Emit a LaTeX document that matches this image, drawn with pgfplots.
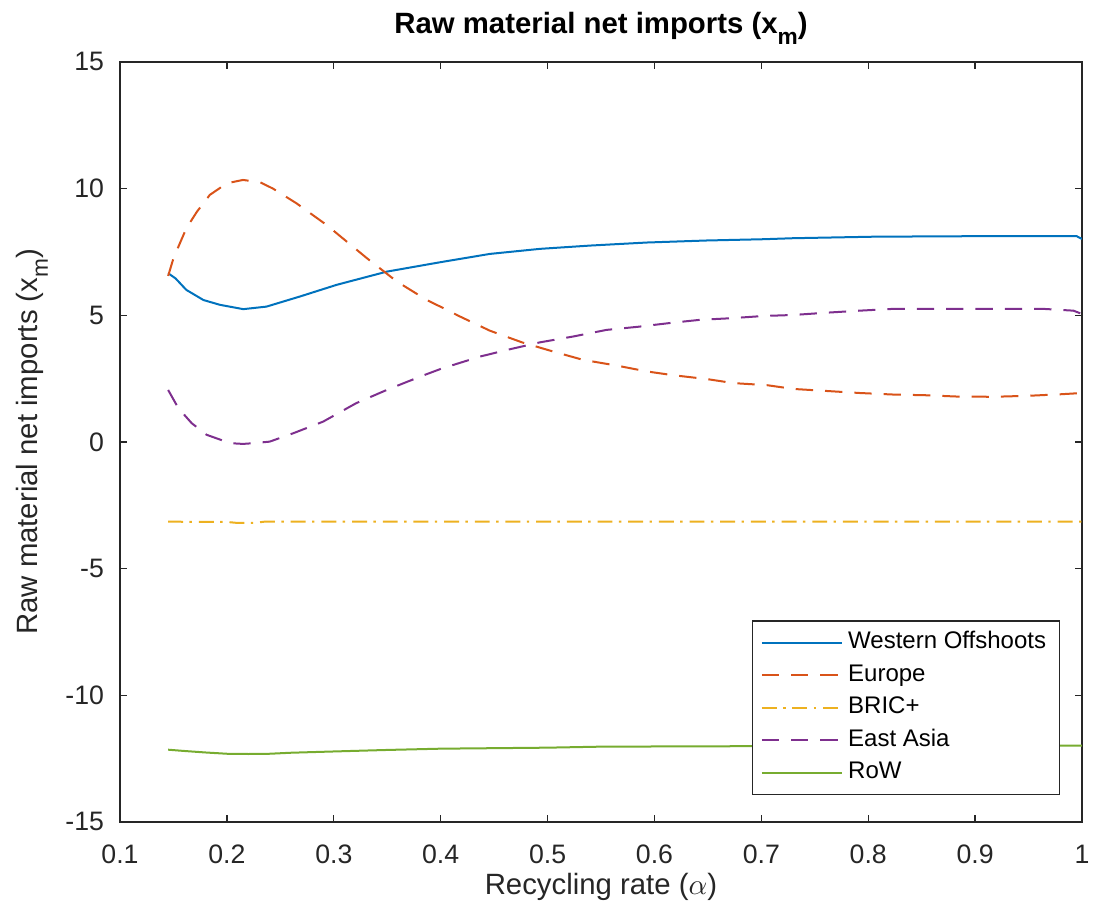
\documentclass[border=0pt]{standalone}
\usepackage{pgfplots}
\pgfplotsset{compat=1.18}
\usepackage{fontspec}
\setmainfont{Liberation Sans}
\definecolor{c1}{rgb}{0,0.447,0.741}
\definecolor{c2}{rgb}{0.85,0.325,0.098}
\definecolor{c3}{rgb}{0.929,0.694,0.125}
\definecolor{c4}{rgb}{0.494,0.184,0.556}
\definecolor{c5}{rgb}{0.466,0.674,0.188}
\definecolor{axc}{rgb}{0.15,0.15,0.15}
\newcommand{\subm}[1]{\raisebox{-4pt}{\fontsize{#1}{#1}\selectfont m}}
\begin{document}
\begin{tikzpicture}
\path[use as bounding box] (-45pt,-34.5pt) rectangle (365.1pt,308.1pt);
\begin{axis}[
  at={(0pt,0pt)}, anchor=south west,
  scale only axis, width=360.6pt, height=284.9pt,
  xmin=0.1, xmax=1, ymin=-15, ymax=15,
  xtick={0.1,0.2,0.3,0.4,0.5,0.6,0.7,0.8,0.9,1},
  ytick={-15,-10,-5,0,5,10,15},
  xticklabels={0.1,0.2,0.3,0.4,0.5,0.6,0.7,0.8,0.9,1},
  yticklabels={-15,-10,-5,0,5,10,15},
  tick align=inside, tick pos=both,
  major tick length=2.6pt,
  axis line style={axc, line width=0.5pt},
  every tick/.style={axc, line width=0.5pt},
  ticklabel style={font=\fontsize{10}{12}\selectfont, text=axc},
  xticklabel style={yshift=-5pt},
  yticklabel style={xshift=-2.5pt},
  label style={font=\fontsize{11}{13}\selectfont, text=axc},
  xlabel style={at={(axis description cs:0.5,-0.086)}, anchor=center},
  ylabel style={at={(axis description cs:-0.0915,0.5)}, anchor=center},
  title style={font=\bfseries\fontsize{11}{13}\selectfont, yshift=-3pt},
  title={Raw material net imports (x\subm{8.5})},
  xlabel={Recycling rate ($\alpha$)},
  ylabel={Raw material net imports (x\subm{8.5})},
  legend style={at={(axis description cs:1,0)}, anchor=south east,
    xshift=-8.2pt, yshift=10.1pt, draw=axc, line width=0.5pt,
    font=\fontsize{9}{9}\selectfont,
    nodes={text height=6.5pt, text depth=1.9pt, inner ysep=1.9pt, inner xsep=2pt},
    cells={anchor=west}},
  legend image code/.code={\draw[#1, line width=0.75pt] (0pt,0pt) -- (30pt,0pt);},
  every axis plot/.append style={line width=0.75pt},
]
\addplot[c1, solid] coordinates {
(0.145,6.66) (0.152,6.45) (0.162,6.0) (0.178,5.6) (0.1935,5.41) (0.2153,5.24)
(0.237,5.34) (0.2684,5.74) (0.3027,6.2) (0.3495,6.72) (0.3993,7.09) (0.446,7.42)
(0.493,7.62) (0.540,7.75) (0.593,7.87) (0.649,7.95) (0.702,8.0) (0.730,8.04)
(0.806,8.1) (0.9,8.12) (0.995,8.12) (1.0,8.01)};
\addlegendentry{Western Offshoots}
\addplot[c2, dash pattern=on 6.5pt off 4.5pt] coordinates {
(0.145,6.55) (0.15,7.25) (0.156,7.84) (0.162,8.43) (0.172,9.09) (0.184,9.75)
(0.200,10.21) (0.215,10.34) (0.231,10.25) (0.243,10.0) (0.265,9.42) (0.293,8.57)
(0.331,7.25) (0.359,6.33) (0.387,5.6) (0.4025,5.28) (0.418,4.95) (0.446,4.39)
(0.476,3.93) (0.505,3.57) (0.533,3.24) (0.565,3.01) (0.593,2.78) (0.618,2.63)
(0.649,2.48) (0.674,2.32) (0.705,2.24) (0.730,2.09) (0.761,2.01) (0.792,1.93)
(0.823,1.87) (0.855,1.84) (0.883,1.79) (0.917,1.78) (0.95,1.82) (0.98,1.88) (1.0,1.93)};
\addlegendentry{Europe}
\addplot[c3, dash pattern=on 5.6pt off 2.4pt on 0.9pt off 2.6pt] coordinates {
(0.145,-3.15) (0.20,-3.16) (0.21,-3.2) (0.225,-3.2) (0.235,-3.15) (0.5,-3.15) (1.0,-3.15)};
\addlegendentry{BRIC+}
\addplot[c4, dash pattern=on 6.5pt off 4.5pt] coordinates {
(0.145,2.05) (0.1546,1.33) (0.167,0.74) (0.181,0.28) (0.203,-0.05) (0.215,-0.08)
(0.225,-0.05) (0.240,0.01) (0.262,0.34) (0.290,0.8) (0.321,1.53) (0.3495,2.05)
(0.381,2.58) (0.3993,2.87) (0.4165,3.1) (0.437,3.37) (0.462,3.63) (0.493,3.93)
(0.524,4.16) (0.555,4.42) (0.586,4.55) (0.618,4.71) (0.643,4.82) (0.671,4.88)
(0.702,4.97) (0.730,5.01) (0.761,5.10) (0.792,5.18) (0.823,5.25) (0.886,5.25)
(0.964,5.25) (0.992,5.18) (1.0,5.05)};
\addlegendentry{East Asia}
\addplot[c5, solid] coordinates {
(0.145,-12.15) (0.16,-12.2) (0.18,-12.26) (0.20,-12.31) (0.22,-12.32) (0.24,-12.31)
(0.26,-12.27) (0.30,-12.22) (0.35,-12.16) (0.40,-12.11) (0.50,-12.07) (0.55,-12.03)
(0.70,-12.01) (0.85,-12.0) (1.0,-11.99)};
\addlegendentry{RoW}
\end{axis}
\end{tikzpicture}
\end{document}
